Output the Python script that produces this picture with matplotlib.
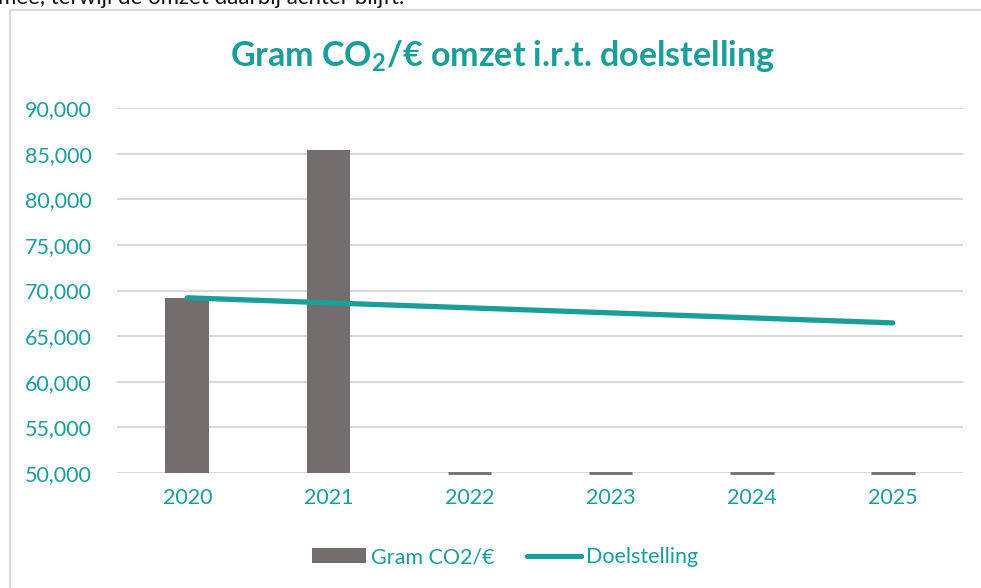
import numpy as np
import matplotlib
matplotlib.use("Agg")
import matplotlib.pyplot as plt
from matplotlib.patches import Rectangle
from matplotlib.ticker import FuncFormatter

# data
jaren = ["2020", "2021", "2022", "2023", "2024", "2025"]
gram_co2 = [69200, 85450, 0, 0, 0, 0]
doelstelling = [69200, 68650, 68100, 67550, 67000, 66450]

teal = "#1A9E9A"
grijs = "#736E6D"
plt.rcParams["font.family"] = ["Lato", "DejaVu Sans"]
plt.rcParams["mathtext.fontset"] = "custom"
plt.rcParams["mathtext.bf"] = "Lato:bold"
plt.rcParams["mathtext.rm"] = "Lato"

fig = plt.figure(figsize=(9.81, 5.88), dpi=100)
ax = fig.add_axes([0.119, 0.1956, 0.863, 0.6207])

# kader van de grafiek (loopt door buiten het beeld)
fig.patches.append(Rectangle((10/981, -0.1), 1.2, 1.1 - 10/588, transform=fig.transFigure,
                             fill=False, edgecolor="#D9D9D9", linewidth=1.5))
# afgesneden tekst boven de grafiek
fig.text(-0.002, 1 - 4/588, "mee, terwijl de omzet daarbij achter blijft.", fontsize=16,
         color="#111111", va="baseline", ha="left")

x = np.arange(len(jaren))
ymin = 50000
ax.bar(x, gram_co2, width=0.31, color=grijs, label="Gram CO2/€", zorder=2)
# waarden onder de as als dun streepje op de as
for xi, v in zip(x, gram_co2):
    if v < ymin:
        ax.hlines(ymin, xi - 0.155, xi + 0.155, color=grijs, linewidth=2, zorder=3, clip_on=False)
ax.plot(x, doelstelling, color=teal, linewidth=3.8, solid_capstyle="round",
        label="Doelstelling", zorder=4)

ax.set_ylim(ymin, 90000)
ax.set_xlim(-0.5, len(jaren) - 0.5)
ax.set_yticks(np.arange(50000, 90001, 5000))
ax.yaxis.set_major_formatter(FuncFormatter(lambda v, p: f"{int(v):,}"))
ax.set_xticks(x)
ax.set_xticklabels(jaren)
ax.tick_params(length=0, labelsize=15.5, labelcolor=teal)
ax.tick_params(axis="y", pad=18)
ax.tick_params(axis="x", pad=11)
ax.grid(axis="y", color="#D9D9D9", linewidth=1.5, zorder=0)
ax.set_axisbelow(True)
for s in ax.spines.values():
    s.set_visible(False)

fig.text(0.512, 0.905, "Gram CO$_\\mathbf{2}$/€ omzet i.r.t. doelstelling", ha="center", va="center",
         fontsize=24.5, fontweight="bold", color=teal)

handles, labels = ax.get_legend_handles_labels()
order = [labels.index("Gram CO2/€"), labels.index("Doelstelling")]
leg = fig.legend([handles[i] for i in order], [labels[i] for i in order],
                 loc="center", bbox_to_anchor=(0.515, 0.052), ncol=2, frameon=False,
                 fontsize=15.5, labelcolor=teal, handlelength=2.5, handletextpad=0.25,
                 columnspacing=1.5)

fig.savefig("out.png", dpi=100)
